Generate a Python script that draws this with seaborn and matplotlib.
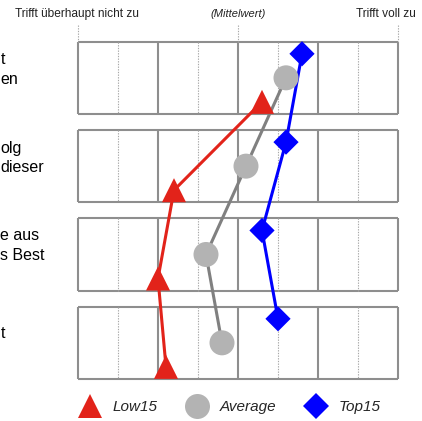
import matplotlib
matplotlib.use("Agg")
import matplotlib.pyplot as plt
from matplotlib.lines import Line2D
import numpy as np
import pandas as pd
import seaborn as sns

# ---- data -------------------------------------------------------------
row_labels = [
    [("t", 59), ("en", 80)],
    [("olg", 148), ("dieser", 168)],
    [("e aus", 235), ("s Best", 255)],
    [("t", 333)],
]
groups = ["Low15", "Average", "Top15"]
low15 = [3.3, 2.2, 2.0, 2.1]
average = [3.6, 3.1, 2.6, 2.8]
top15 = [3.8, 3.6, 3.3, 3.5]
scale_left = "Trifft überhaupt nicht zu"
scale_mid = "(Mittelwert)"
scale_right = "Trifft voll zu"

# ---- styles -----------------------------------------------------------
RED, GREY_M, GREY_L, BLUE = "#E2231A", "#B3B3B3", "#808080", "#0000FF"
line_palette = {"Low15": RED, "Average": GREY_L, "Top15": BLUE}
marker_palette = {"Low15": RED, "Average": GREY_M, "Top15": BLUE}
marker_shapes = {"Low15": "^", "Average": "o", "Top15": "D"}
marker_sizes = {"Low15": 300, "Average": 324, "Top15": 165}
offsets = {"Low15": 0.272, "Average": 0.0, "Top15": -0.272}

sns.set_theme(style="white")
plt.rcParams["font.family"] = ["Liberation Sans", "DejaVu Sans"]

W, H = 422, 421
fig = plt.figure(figsize=(W / 100, H / 100), dpi=100)
ax = fig.add_axes([0, 0, 1, 1])

n_rows = len(low15)
half = 0.409
box_col = "#8E8E8E"
dot_col = "#A8A8A8"

# panel frames with solid and dotted scale lines
for r in range(n_rows):
    ax.hlines([r - half, r + half], 1, 5, color=box_col, lw=1.5, zorder=1)
    ax.vlines([1, 2, 3, 4, 5], r - half, r + half, color=box_col, lw=1.5, zorder=1)
    ax.vlines([1.5, 2.5, 3.5, 4.5], r - half, r + half, color=dot_col, lw=0.8,
              linestyles=(0, (1.2, 1.2)), zorder=1)
ax.vlines([1, 3, 5], -0.598, -half, color=dot_col, lw=0.8,
          linestyles=(0, (1.2, 1.2)), zorder=1)

# long-form table
vals = {"Low15": low15, "Average": average, "Top15": top15}
df = pd.DataFrame(
    [{"group": g, "row": r, "value": vals[g][r], "ypos": r + offsets[g]}
     for g in groups for r in range(n_rows)]
)

sns.lineplot(data=df, x="value", y="ypos", hue="group", palette=line_palette,
             sort=False, estimator=None, lw=2.2, legend=False, ax=ax, zorder=2)
sns.scatterplot(data=df, x="value", y="ypos", hue="group", style="group",
                size="group", markers=marker_shapes, palette=marker_palette,
                sizes=marker_sizes, linewidth=0, legend=False, ax=ax, zorder=3)
ax.set_xlim(0.025, 5.3)
ax.set_ylim(3.885, -0.881)
ax.set_axis_off()


def fx(px):
    return px / W


def fy(py):
    return 1 - py / H


# scale header
fig.text(fx(77), fy(14), scale_left, ha="center", va="center", fontsize=8.6, color="#222222")
fig.text(fx(238), fy(14), scale_mid, ha="center", va="center", fontsize=8,
         style="italic", color="#222222")
fig.text(fx(416), fy(14), scale_right, ha="right", va="center", fontsize=8.6, color="#222222")

# row labels along the left edge
for lines in row_labels:
    for txt, yc in lines:
        fig.text(fx(0.5), fy(yc), txt, ha="left", va="center", fontsize=11.5, color="black")

# legend
handles = [Line2D([], [], ls="", marker=marker_shapes[g], color=marker_palette[g],
                  markeredgewidth=0,
                  markersize=np.sqrt(marker_sizes[g])) for g in groups]
fig.legend(handles, groups, loc="center", bbox_to_anchor=(fx(229.5), fy(407)),
           ncol=3, frameon=False, handlelength=1.6, handletextpad=0.68,
           columnspacing=1.8, borderpad=0, borderaxespad=0,
           prop={"style": "italic", "size": 11})

fig.savefig("out.png", dpi=100)
